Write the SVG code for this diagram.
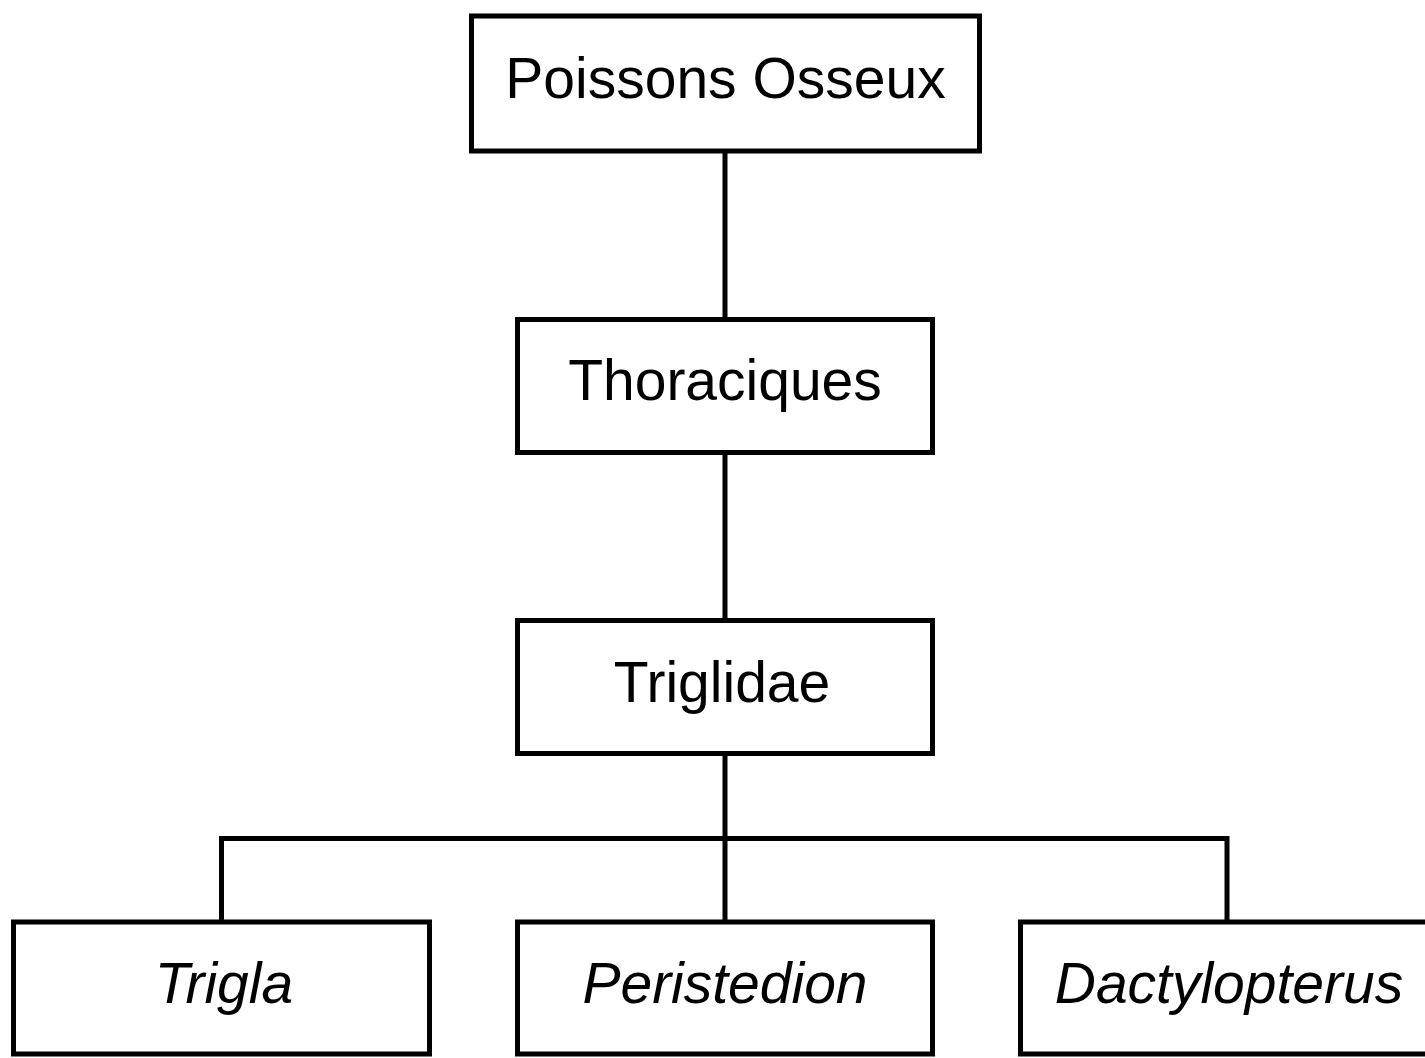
<svg xmlns="http://www.w3.org/2000/svg" width="1425" height="1058" viewBox="0 0 1425 1058">
<style>
.box{fill:#fff;stroke:#000;stroke-width:5}
.lbl{font-family:"Liberation Sans",Arial,sans-serif;font-size:57px;fill:#000;text-anchor:middle}
.it{font-style:italic}
.con{fill:none;stroke:#000;stroke-width:5}
</style>
<rect width="1425" height="1058" fill="#fff"/>
<g id="connectors">
<line class="con" x1="725" y1="151" x2="725" y2="320"/>
<line class="con" x1="725" y1="453" x2="725" y2="621"/>
<line class="con" x1="725" y1="754" x2="725" y2="922"/>
<polyline class="con" points="221.5,922 221.5,838.5 1227,838.5 1227,922"/>
</g>
<g id="poissons-osseux">
<rect class="box" x="471.5" y="16" width="508" height="135"/>
<text class="lbl" x="725.5" y="98">Poissons Osseux</text>
</g>
<g id="thoraciques">
<rect class="box" x="517.5" y="319.5" width="415" height="133"/>
<text class="lbl" x="725" y="400">Thoraciques</text>
</g>
<g id="triglidae">
<rect class="box" x="517.5" y="620.5" width="415" height="133"/>
<text class="lbl" x="722" y="702">Triglidae</text>
</g>
<g id="trigla">
<rect class="box" x="13.5" y="922" width="416" height="132"/>
<text class="lbl it" x="224" y="1003">Trigla</text>
</g>
<g id="peristedion">
<rect class="box" x="517.5" y="922" width="415" height="132"/>
<text class="lbl it" x="725" y="1003">Peristedion</text>
</g>
<g id="dactylopterus">
<rect class="box" x="1020.5" y="922" width="416" height="132"/>
<text class="lbl it" x="1229" y="1003">Dactylopterus</text>
</g>
</svg>
